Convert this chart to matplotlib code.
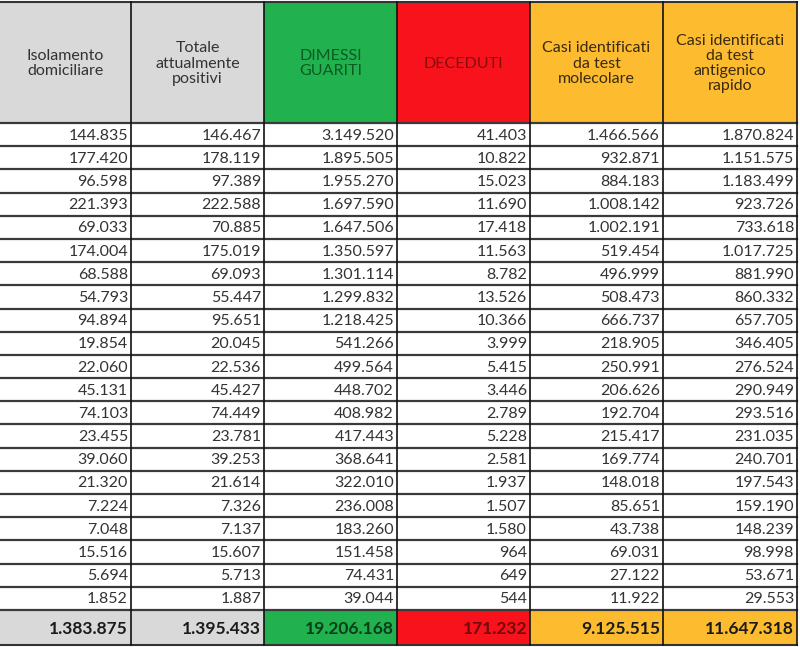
import matplotlib.pyplot as plt
from matplotlib.patches import Rectangle

# column headers (one line per list item)
headers = [
    ["Isolamento", "domiciliare"],
    ["Totale", "attualmente", "positivi"],
    ["DIMESSI", "GUARITI"],
    ["DECEDUTI"],
    ["Casi identificati", "da test", "molecolare"],
    ["Casi identificati", "da test", "antigenico", "rapido"],
]

isolamento = [144835, 177420, 96598, 221393, 69033, 174004, 68588, 54793, 94894,
              19854, 22060, 45131, 74103, 23455, 39060, 21320, 7224, 7048, 15516,
              5694, 1852]
positivi = [146467, 178119, 97389, 222588, 70885, 175019, 69093, 55447, 95651,
            20045, 22536, 45427, 74449, 23781, 39253, 21614, 7326, 7137, 15607,
            5713, 1887]
guariti = [3149520, 1895505, 1955270, 1697590, 1647506, 1350597, 1301114, 1299832,
           1218425, 541266, 499564, 448702, 408982, 417443, 368641, 322010, 236008,
           183260, 151458, 74431, 39044]
deceduti = [41403, 10822, 15023, 11690, 17418, 11563, 8782, 13526, 10366, 3999,
            5415, 3446, 2789, 5228, 2581, 1937, 1507, 1580, 964, 649, 544]
molecolare = [1466566, 932871, 884183, 1008142, 1002191, 519454, 496999, 508473,
              666737, 218905, 250991, 206626, 192704, 215417, 169774, 148018, 85651,
              43738, 69031, 27122, 11922]
antigenico = [1870824, 1151575, 1183499, 923726, 733618, 1017725, 881990, 860332,
              657705, 346405, 276524, 290949, 293516, 231035, 240701, 197543, 159190,
              148239, 98998, 53671, 29553]
totali = [1383875, 1395433, 19206168, 171232, 9125515, 11647318]

columns = [isolamento, positivi, guariti, deceduti, molecolare, antigenico]

head_colors = ["#d9d9d9", "#d9d9d9", "#21b14e", "#f7121c", "#fdbb30", "#fdbb30"]
head_text = ["#333333", "#333333", "#0c5a22", "#8a0b0b", "#3a2a10", "#3a2a10"]
total_text = ["#1a1a1a", "#1a1a1a", "#0b3d18", "#6e0a0a", "#1a1a1a", "#1a1a1a"]


def fmt(v):
    return f"{v:,}".replace(",", ".")


plt.rcParams['font.family'] = ['Lato', 'DejaVu Sans']
fig = plt.figure(figsize=(8, 6.47), dpi=100)
ax = fig.add_axes([0, 0, 1, 1])
ax.set_xlim(0, 800)
ax.set_ylim(647, 0)
ax.axis('off')

col_x = [0, 131, 264, 397, 530, 663, 797]
head_top, head_bot = 2, 123
row_h = (610 - head_bot) / len(isolamento)
tot_top, tot_bot = 610, 645

# header
for j, lines in enumerate(headers):
    x0, x1 = col_x[j], col_x[j + 1]
    ax.add_patch(Rectangle((x0, head_top), x1 - x0, head_bot - head_top,
                           facecolor=head_colors[j], edgecolor='none'))
    ax.text((x0 + x1) / 2, (head_top + head_bot) / 2 + 1, "\n".join(lines),
            ha='center', va='center', fontsize=11.5, color=head_text[j],
            linespacing=1.1)

# data rows
for j, col in enumerate(columns):
    x1 = col_x[j + 1]
    for i, v in enumerate(col):
        yc = head_bot + (i + 0.5) * row_h
        ax.text(x1 - 3, yc + 1, fmt(v), ha='right', va='center',
                fontsize=11.5, color='#333333')

# totals row
for j, v in enumerate(totali):
    x0, x1 = col_x[j], col_x[j + 1]
    ax.add_patch(Rectangle((x0, tot_top), x1 - x0, tot_bot - tot_top,
                           facecolor=head_colors[j], edgecolor='none'))
    ax.text(x1 - 3, (tot_top + tot_bot) / 2 + 1, fmt(v), ha='right', va='center',
            fontsize=12.5, fontweight='bold', color=total_text[j])

# grid lines
ax.plot([0, 797], [head_top, head_top], color='#333333', lw=1.5)
for i in range(len(isolamento) + 1):
    y = head_bot + i * row_h
    ax.plot([0, 797], [y, y], color='#3a3a3a', lw=1.6)
ax.plot([0, 797], [tot_bot, tot_bot], color='#333333', lw=1.5)
for x in col_x[1:]:
    ax.plot([x, x], [head_top, tot_bot], color='#111111', lw=1.2)

fig.savefig("out.png", dpi=100, facecolor='white')
